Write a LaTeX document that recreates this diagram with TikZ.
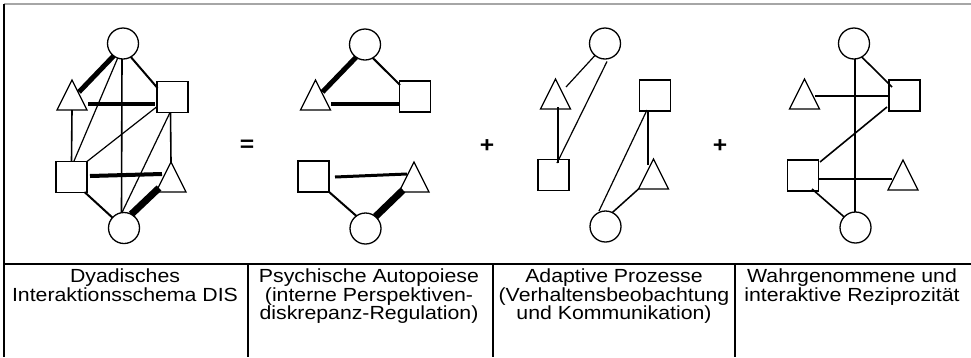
\documentclass[tikz,border=0pt]{standalone}
\usepackage{fontspec}
\setmainfont{Liberation Sans}[FakeStretch=1.12]
\usetikzlibrary{shapes.geometric,calc}
\begin{document}
\begin{tikzpicture}[x=1pt,y=-1pt,
  shp/.style={draw, line width=1.3pt, inner sep=0pt, outer sep=0pt},
  circ/.style={shp, circle, minimum size=31pt},
  sq/.style={shp, rectangle, minimum size=31pt},
  tri/.style={shp, isosceles triangle, isosceles triangle stretches, shape border rotate=90, minimum width=30pt, minimum height=30pt, anchor=lower side},
  thinline/.style={line width=1.2pt},
  medline/.style={line width=1.6pt},
  frameline/.style={line width=1.3pt},
  lbl/.style={align=center, anchor=north, inner sep=0pt, font=\fontsize{19}{17.5}\selectfont},
  op/.style={inner sep=0pt, font=\fontsize{22}{22}\selectfont\bfseries}
]
\useasboundingbox (0,0) rectangle (971,357);
% frame
\draw[gray!70, line width=1.5pt] (4,4) -- (971,4);
\draw[frameline] (4,4) -- (4,357);
\draw[frameline] (4,264) -- (971,264);
\draw[frameline] (248,264) -- (248,357);
\draw[frameline] (493,264) -- (493,357);
\draw[frameline] (735,264) -- (735,357);
% labels
\node[lbl] (d1) at (125,268.5) {Dyadisches\\Interaktionsschema DIS};
\node[lbl] (d2) at (369,268.5) {Psychische Autopoiese\\(interne Perspektiven-\\diskrepanz-Regulation)};
\node[lbl] (d3) at (614,268.5) {Adaptive Prozesse\\(Verhaltensbeobachtung\\und Kommunikation)};
\node[lbl] (d4) at (852,268.5) {Wahrgenommene und\\interaktive Reziprozität};
\node[op] (eq) at (247,146) {=};
\node[op] (p1) at (487,146) {+};
\node[op] (p2) at (720,146) {+};
% panel 1
\node[circ] (c1a) at (123,43.5) {};
\node[tri] (t1a) at (72,110) {};
\node[sq] (s1a) at (172.5,97) {};
\node[sq] (s1b) at (71.5,177) {};
\node[tri] (t1b) at (171,192) {};
\node[circ] (c1b) at (124,228) {};
\draw[line width=5pt] (c1a.233) -- ($(t1a.lower side)+(7,-18)$);
\draw[line width=2pt] (c1a.300) -- ($(s1a)+(-15,-9)$);
\draw[line width=4pt] ($(t1a.lower side)+(16,-6)$) -- ($(s1a)+(-17.5,7)$);
\draw[medline] (t1a.lower side) -- (s1b.north);
\draw[thinline] (c1a.250) -- ($(s1b)+(2.5,-16)$);
\draw[medline] ($(c1a.south)+(-1,0)$) -- ($(c1b.north)+(-2.5,0)$);
\draw[thinline] ($(s1a)+(-16,10)$) -- (s1b.north east);
\draw[thinline] ($(s1a.south)+(-2.5,0)$) -- ($(c1b.north)+(-2,0)$);
\draw[medline] ($(s1a.south)+(-2,0)$) -- (t1b.apex);
\draw[line width=4pt] ($(s1b)+(18.5,-1)$) -- ($(t1b.lower side)+(-9,-18)$);
\draw[line width=7pt] ($(t1b.lower side)+(-12,-4)$) -- (c1b.62);
\draw[line width=2pt] ($(s1b)+(13,15)$) -- (c1b.138);
% panel 2
\node[circ] (c2a) at (365,44.5) {};
\node[tri] (t2a) at (315.5,110) {};
\node[sq] (s2a) at (415,96.5) {};
\node[sq] (s2b) at (313.5,176.5) {};
\node[tri] (t2b) at (414,192) {};
\node[circ] (c2b) at (365.5,228.5) {};
\draw[line width=5pt] (c2a.235) -- ($(t2a.lower side)+(7,-18)$);
\draw[line width=2pt] (c2a.300) -- ($(s2a)+(-15,-11.5)$);
\draw[line width=3.5pt] ($(t2a.lower side)+(15.5,-6)$) -- ($(s2a)+(-16,7.5)$);
\draw[line width=3pt] ($(s2b)+(21.5,0.5)$) -- ($(t2b.lower side)+(-7,-18)$);
\draw[line width=7pt] ($(t2b.lower side)+(-11,-2)$) -- (c2b.50);
\draw[line width=2pt] ($(s2b)+(14.5,14.5)$) -- (c2b.126);
% panel 3
\node[circ] (c3a) at (605,43.5) {};
\node[tri] (t3a) at (555.5,109) {};
\node[sq] (s3b) at (553.5,175) {};
\node[sq] (s3a) at (655,95.5) {};
\node[tri] (t3b) at (653.5,189) {};
\node[circ] (c3b) at (605.5,226.5) {};
\draw[thinline] (c3a.230) -- ($(t3a.lower side)+(10.5,-22)$);
\draw[thinline] ($(c3a)+(2,18)$) -- ($(s3b)+(3.5,-12)$);
\draw[medline] ($(t3a.lower side)+(2.5,-2)$) -- ($(s3b)+(4.5,-12)$);
\draw[thinline] ($(s3a)+(-8,14.5)$) -- ($(c3b)+(-6.5,-15.5)$);
\draw[medline] ($(s3a)+(-7,14.5)$) -- ($(t3b.lower side)+(-5.5,-24)$);
\draw[line width=1.5pt] (t3b.left corner) -- (c3b.64);
% panel 4
\node[circ] (c4a) at (854,43.5) {};
\node[sq] (s4a) at (904.5,95.5) {};
\node[tri] (t4a) at (804.5,109) {};
\node[sq] (s4b) at (803,175.5) {};
\node[tri] (t4b) at (903,190) {};
\node[circ] (c4b) at (855.5,227.5) {};
\draw[medline] ($(c4a.south)+(1,0)$) -- ($(c4b.north)+(-0.5,0)$);
\draw[medline] (c4a.300) -- ($(s4a)+(-12.5,-8.5)$);
\draw[medline] ($(t4a.lower side)+(10.5,-13)$) -- ($(s4a)+(-15.5,0.5)$);
\draw[medline] ($(s4a)+(-17.5,11.5)$) -- ($(s4b)+(17,-13.5)$);
\draw[medline] ($(s4b)+(16,3.5)$) -- ($(t4b.lower side)+(-11,-11)$);
\draw[medline] ($(s4b)+(9,13.5)$) -- (c4b.137);
\end{tikzpicture}
\end{document}
